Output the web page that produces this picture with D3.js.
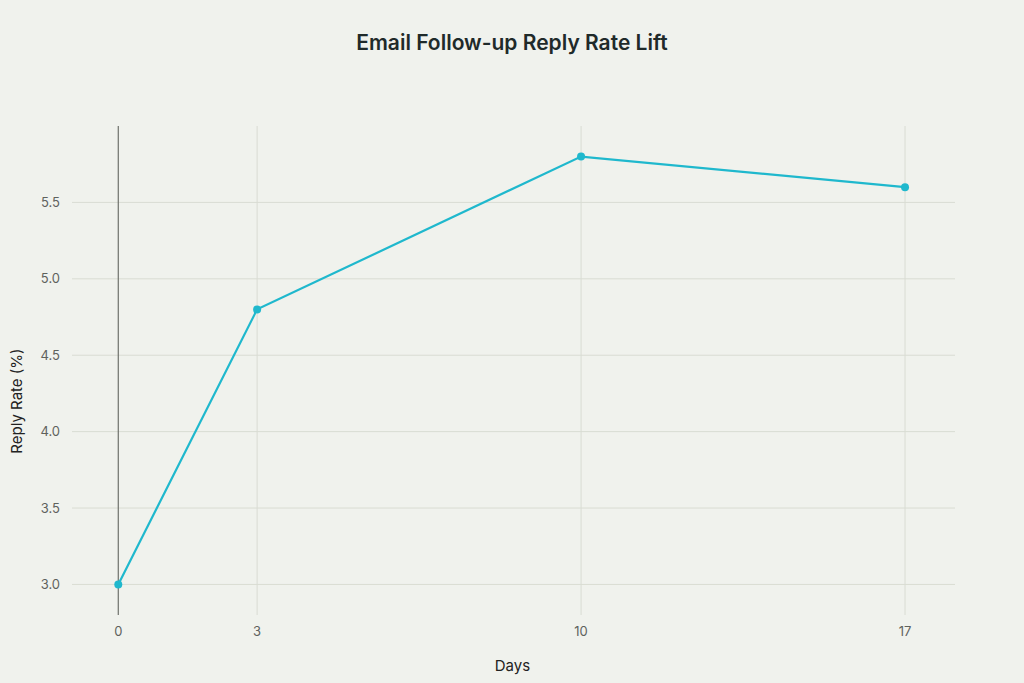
<!DOCTYPE html>
<html><head><meta charset="utf-8">
<script src="https://cdn.jsdelivr.net/npm/d3@7"></script>
<style>
body{margin:0;background:#f0f2ed;font-family:Inter,"Noto Sans",sans-serif}
</style></head><body>
<svg width="1024" height="683"></svg>
<script>
var days = [0, 3, 10, 17]
var replyRate = [3.0, 4.8, 5.8, 5.6]
var yTicks = [3.0, 3.5, 4.0, 4.5, 5.0, 5.5]

var svg = d3.select("svg")
var m = {left: 72, right: 955, top: 126, bottom: 615}

var x = d3.scaleLinear().domain([-1, 18.08]).range([m.left, m.right])
var y = d3.scaleLinear().domain([2.8, 6.0]).range([m.bottom, m.top])

svg.append("rect").attr("width", 1024).attr("height", 683).attr("fill", "#f0f2ed")

// grid
svg.append("g").selectAll("line").data(yTicks).join("line")
    .attr("x1", m.left).attr("x2", m.right)
    .attr("y1", d => y(d)).attr("y2", d => y(d))
    .attr("stroke", "#d9dcd3").attr("stroke-width", 1)
svg.append("g").selectAll("line").data(days.slice(1)).join("line")
    .attr("x1", d => x(d)).attr("x2", d => x(d))
    .attr("y1", m.top).attr("y2", m.bottom)
    .attr("stroke", "#d9dcd3").attr("stroke-width", 1)
// zero line
svg.append("line").attr("x1", x(0)).attr("x2", x(0))
    .attr("y1", m.top).attr("y2", m.bottom)
    .attr("stroke", "#6e716b").attr("stroke-width", 1.2)

// tick labels
svg.append("g").selectAll("text").data(yTicks).join("text")
    .attr("x", 60).attr("y", d => y(d)).attr("dy", "0.35em")
    .attr("text-anchor", "end").attr("font-size", 13).attr("fill", "#5f625d")
    .text(d => d.toFixed(1))
svg.append("g").selectAll("text").data(days).join("text")
    .attr("x", d => x(d)).attr("y", 636)
    .attr("text-anchor", "middle").attr("font-size", 13).attr("fill", "#5f625d")
    .text(d => d)

// axis titles
svg.append("text").attr("x", (m.left + m.right) / 2 - 1).attr("y", 671)
    .attr("text-anchor", "middle").attr("font-size", 15).attr("fill", "#222")
    .text("Days")
svg.append("text").attr("transform", "translate(22," + y(4.2) + ") rotate(-90)")
    .attr("text-anchor", "middle").attr("font-size", 15).attr("fill", "#222")
    .text("Reply Rate (%)")

// title
svg.append("text").attr("x", 512).attr("y", 50)
    .attr("text-anchor", "middle").attr("font-size", 21).attr("font-weight", 600)
    .attr("fill", "#1f2a2a").text("Email Follow-up Reply Rate Lift")

var pts = days.map((d, i) => [d, replyRate[i]])
svg.append("path").datum(pts)
    .attr("d", d3.line().x(d => x(d[0])).y(d => y(d[1])))
    .attr("fill", "none").attr("stroke", "#1fb8cd").attr("stroke-width", 2.2)
svg.append("g").selectAll("circle").data(pts).join("circle")
    .attr("cx", d => x(d[0])).attr("cy", d => y(d[1])).attr("r", 4)
    .attr("fill", "#1fb8cd")
</script>
</body></html>
